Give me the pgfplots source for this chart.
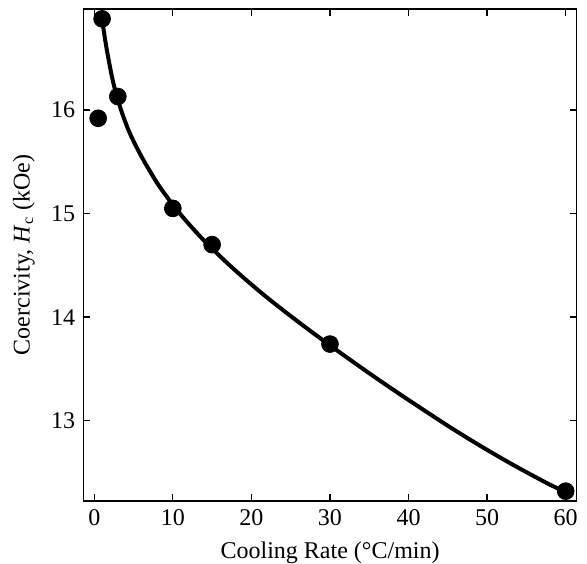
\documentclass[border=0pt]{standalone}
\usepackage{fontspec}
\setmainfont{Liberation Serif}
\usepackage{pgfplots}
\pgfplotsset{compat=1.18}

% measured data
\pgfplotstableread{
x y
0.5 15.92
1 16.88
3 16.13
10 15.05
15 14.70
30 13.74
60 12.32
}\measured

% fitted curve
\pgfplotstableread{
x y
1 16.88
1.3 16.72
1.6 16.58
2.2 16.34
2.7 16.18
3.5 15.98
4.5 15.78
5.8 15.58
7.0 15.42
8.4 15.25
10.9 15.00
13.9 14.745
17.7 14.468
21.9 14.195
26.2 13.941
30.0 13.728
34.7 13.474
38.9 13.256
44.8 12.961
49.1 12.759
53.3 12.574
57.5 12.402
60 12.31
}\fitcurve

\begin{document}
\fontsize{12}{14}\selectfont
\begin{tikzpicture}
\begin{axis}[
    scale only axis,
    width=246.6pt, height=246pt,
    xmin=-1.37, xmax=61.4,
    ymin=12.225, ymax=16.975,
    xtick={0,10,...,60},
    ytick={13,14,15,16},
    tick align=inside,
    major tick length=3.5pt,
    minor tick num=0,
    axis line style={line width=0.65pt},
    every tick/.style={black, line width=0.65pt},
    tick label style={font=\fontsize{12}{14}\selectfont},
    label style={font=\fontsize{12}{14}\selectfont},
    /pgf/number format/assume math mode=true,
    xlabel={Cooling Rate (°C/min)},
    ylabel={Coercivity, \textit{H}\textsubscript{c} (kOe)},
]
\addplot[black, line width=2pt, smooth, tension=0.5, no marks] table {\fitcurve};
\addplot[only marks, mark=*, mark size=4.2pt, black] table {\measured};
\end{axis}
\pgfresetboundingbox
\useasboundingbox ([shift={(-41.75pt,-31.5pt)}]current axis.south west)
    rectangle ([shift={(5.15pt,4.5pt)}]current axis.north east);
\end{tikzpicture}
\end{document}
